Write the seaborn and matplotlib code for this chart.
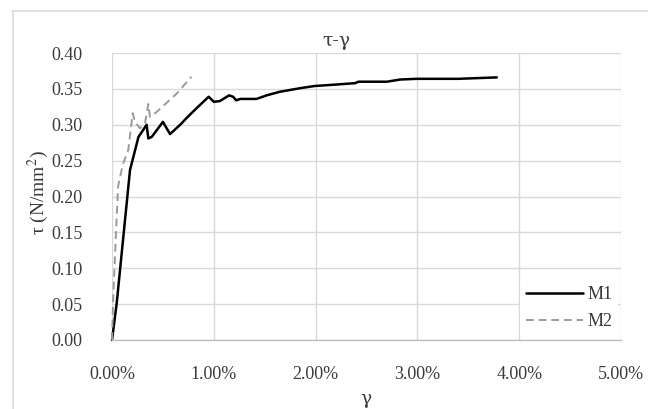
import matplotlib
matplotlib.use("Agg")
import matplotlib.pyplot as plt
from matplotlib.lines import Line2D
from matplotlib.ticker import FuncFormatter
import pandas as pd
import seaborn as sns

# Shear strain gamma (%) and shear stress tau (N/mm^2) for the two specimens
m1_gamma = [0.00, 0.046, 0.177, 0.26, 0.34, 0.357, 0.39, 0.50, 0.57, 0.67, 0.73,
            0.83, 0.95, 1.00, 1.06, 1.15, 1.19, 1.22, 1.26, 1.42, 1.52, 1.65,
            1.85, 1.99, 2.20, 2.39, 2.42, 2.70, 2.83, 2.99, 3.40, 3.78]
m1_tau = [0.000, 0.051, 0.237, 0.283, 0.300, 0.281, 0.283, 0.304, 0.287, 0.300,
          0.309, 0.323, 0.339, 0.332, 0.333, 0.341, 0.339, 0.334, 0.336, 0.336,
          0.341, 0.346, 0.351, 0.354, 0.356, 0.358, 0.360, 0.360, 0.363, 0.364,
          0.364, 0.366]

m2_gamma = [0.00, 0.01, 0.04, 0.06, 0.08, 0.11, 0.16, 0.203, 0.226, 0.275,
            0.324, 0.357, 0.373, 0.44, 0.64, 0.78]
m2_tau = [0.000, 0.051, 0.153, 0.214, 0.228, 0.246, 0.265, 0.316, 0.304, 0.295,
          0.302, 0.329, 0.311, 0.318, 0.344, 0.367]

series_names = ["M1", "M2"]
x_ticks = [0, 1, 2, 3, 4, 5]
y_ticks = [0.00, 0.05, 0.10, 0.15, 0.20, 0.25, 0.30, 0.35, 0.40]

TEXT = "#3a3a3a"
FS = 13

sns.set_theme(style="white")
plt.rcParams["font.family"] = ["Liberation Serif", "DejaVu Serif"]
plt.rcParams["mathtext.fontset"] = "stix"

fig = plt.figure(figsize=(6.48, 4.09), dpi=100)
ax = fig.add_axes([112 / 648, 69 / 409, 509 / 648, 287 / 409])

df1 = pd.DataFrame({"gamma": m1_gamma, "tau": m1_tau})
df2 = pd.DataFrame({"gamma": m2_gamma, "tau": m2_tau})
sns.lineplot(data=df1, x="gamma", y="tau", ax=ax, sort=False, estimator=None,
             color="black", linewidth=1.8, label=series_names[0], clip_on=False)
sns.lineplot(data=df2, x="gamma", y="tau", ax=ax, sort=False, estimator=None,
             color="#9a9a9a", linewidth=1.4, linestyle=(0, (4, 2.5)),
             label=series_names[1], clip_on=False)

ax.set_xlim(0, 5)
ax.set_ylim(0, 0.40)
ax.set_xticks(x_ticks)
ax.set_yticks(y_ticks)
ax.xaxis.set_major_formatter(FuncFormatter(lambda v, p: f"{v:.2f}%"))
ax.yaxis.set_major_formatter(FuncFormatter(lambda v, p: f"{v:.2f}"))
ax.grid(True, color="#d9d9d9", linewidth=1.0)
ax.set_axisbelow(True)
for side in ["top", "right", "left"]:
    ax.spines[side].set_visible(False)
ax.spines["bottom"].set_color("#bfbfbf")
ax.spines["bottom"].set_linewidth(1.0)
ax.tick_params(axis="both", length=0, labelsize=FS, colors=TEXT)
ax.tick_params(axis="y", pad=21)
ax.tick_params(axis="x", pad=19)
ax.set_xlabel("")
ax.set_ylabel("")

leg = ax.legend(loc="lower right", bbox_to_anchor=(0.995, 0.015), frameon=True,
                fontsize=FS, handlelength=3.2, handletextpad=0.25,
                labelspacing=0.55, borderpad=0.3, borderaxespad=0.0)
leg.get_frame().set_facecolor("white")
leg.get_frame().set_edgecolor("none")
leg.get_frame().set_alpha(1.0)
for t in leg.get_texts():
    t.set_color(TEXT)

fig.text(336 / 648, 1 - 41 / 409, "τ-γ", ha="center", va="center",
         fontsize=13.5, color=TEXT, family=["DejaVu Serif"])
fig.text(38 / 648, 1 - 193 / 409, "τ (N/mm$^2$)", ha="center", va="center",
         rotation=90, fontsize=FS + 1, color=TEXT)
fig.text(366 / 648, 1 - 399 / 409, "γ", ha="center", va="center",
         fontsize=13.5, color=TEXT, family=["DejaVu Serif"])

# Thin outer chart border
fig.add_artist(Line2D([12 / 648, 1.0], [1 - 11 / 409, 1 - 11 / 409],
                      transform=fig.transFigure, color="#d9d9d9", linewidth=1.2))
fig.add_artist(Line2D([12.5 / 648, 12.5 / 648], [0.0, 1 - 11 / 409],
                      transform=fig.transFigure, color="#d9d9d9", linewidth=1.2))

fig.savefig("out.png", dpi=100)
